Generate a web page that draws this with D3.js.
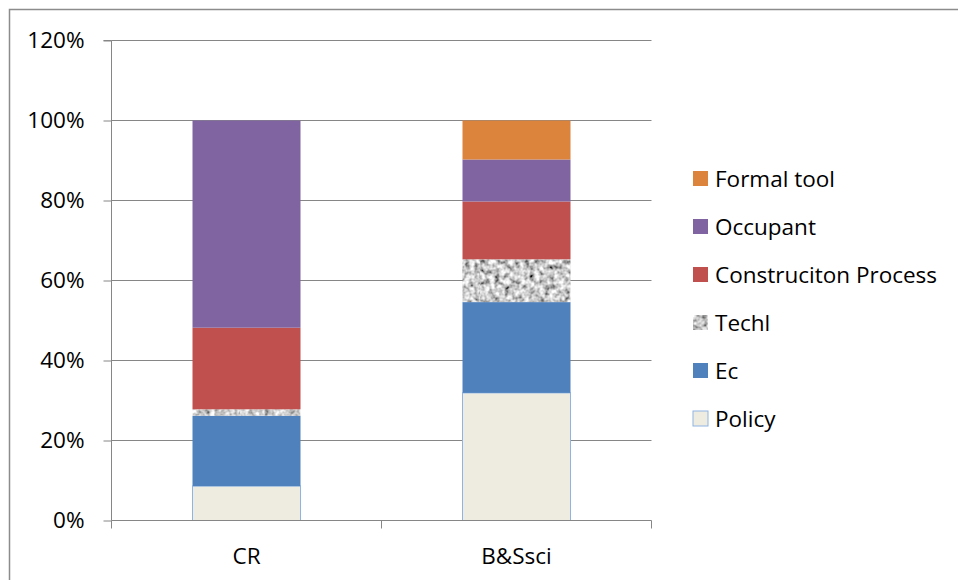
<!DOCTYPE html>
<html><head><meta charset="utf-8">
<script src="https://cdn.jsdelivr.net/npm/d3@7/dist/d3.min.js"></script>
<style>body{margin:0;background:#fff}svg{display:block}text{font-family:"Open Sans",Lato,sans-serif;fill:#000}</style>
</head><body>
<svg id="c" width="958" height="580"></svg>
<script>
const categories = ["CR", "B&Ssci"];
const seriesNames = ["Policy", "Ec", "Techl", "Construciton Process", "Occupant", "Formal tool"];
const policy   = [8.6, 31.9];
const ec       = [17.6, 22.7];
const techl    = [1.6, 10.7];
const construc = [20.4, 14.45];
const occupant = [51.8, 10.5];
const formal   = [0, 9.75];
const yTicks = [0, 20, 40, 60, 80, 100, 120];

const seriesValues = [policy, ec, techl, construc, occupant, formal];
const colors = ["#eeece1", "#4f81bd", "url(#granite)", "#c0504d", "#8064a2", "#dc843c"];
const FS = 22.5;

const svg = d3.select("#c");
const defs = svg.append("defs");
const f = defs.append("filter").attr("id", "noise").attr("x", 0).attr("y", 0).attr("width", "100%").attr("height", "100%");
f.append("feTurbulence").attr("type", "fractalNoise").attr("baseFrequency", 0.2).attr("numOctaves", 2).attr("seed", 4).attr("result", "t");
f.append("feColorMatrix").attr("in", "t").attr("type", "matrix")
  .attr("values", "1.7 0 0 0 -0.25  1.7 0 0 0 -0.25  1.7 0 0 0 -0.25  0 0 0 0 1").attr("result", "g");
f.append("feGaussianBlur").attr("in", "g").attr("stdDeviation", 0.5);
const pat = defs.append("pattern").attr("id", "granite").attr("patternUnits", "userSpaceOnUse")
  .attr("width", 120).attr("height", 120);
pat.append("rect").attr("width", 120).attr("height", 120).attr("filter", "url(#noise)");

// outer border
svg.append("path").attr("d", "M9.5,580 V9.5 H958").attr("fill", "none").attr("stroke", "#8c8c8c").attr("stroke-width", 1.5);

const x0 = 111.5, x1 = 651.5, yTop = 40.5, yBot = 520.5;
const x = d3.scaleBand().domain(categories).range([x0, x1]).paddingInner(0.6).paddingOuter(0.3);
const y = d3.scaleLinear().domain([0, 120]).range([yBot, yTop]);

// gridlines
svg.append("g").selectAll("line").data(yTicks.slice(1)).join("line")
  .attr("x1", x0).attr("x2", x1).attr("y1", d => y(d)).attr("y2", d => y(d))
  .attr("stroke", "#868686").attr("stroke-width", 1);

// stacked bars
const table = categories.map((c, i) => {
  const o = {cat: c};
  seriesNames.forEach((s, j) => o[s] = seriesValues[j][i]);
  return o;
});
const stacked = d3.stack().keys(seriesNames)(table);
const gBars = svg.append("g");
stacked.forEach((layer, j) => {
  gBars.append("g").selectAll("rect").data(layer).join("rect")
    .attr("x", d => x(d.data.cat)).attr("width", x.bandwidth())
    .attr("y", d => y(d[1])).attr("height", d => y(d[0]) - y(d[1]))
    .attr("fill", colors[j])
    .attr("stroke", j === 0 ? "#8eb4e3" : "none").attr("stroke-width", 1);
});

// y axis
const yAxis = d3.axisLeft(y).tickValues(yTicks).tickFormat(d => d + "%").tickSize(8).tickPadding(12);
const gy = svg.append("g").attr("transform", `translate(${x0},0)`).call(yAxis);
gy.select(".domain").attr("stroke", "#868686").attr("d", `M-8,${yTop}H0V${yBot}`);
gy.selectAll(".tick line").attr("stroke", "#868686");
gy.selectAll(".tick text").attr("font-size", FS).attr("font-family", "Open Sans").attr("fill", "#000").attr("dx", -7);

// x axis
const gx = svg.append("g").attr("transform", `translate(0,${yBot})`);
gx.append("line").attr("x1", x0).attr("x2", x1).attr("stroke", "#868686");
const bounds = [x0, (x0 + x1) / 2, x1];
gx.selectAll(".tk").data(bounds).join("line").attr("class", "tk")
  .attr("x1", d => d).attr("x2", d => d).attr("y1", 0).attr("y2", 8).attr("stroke", "#868686");
gx.selectAll("text").data(categories).join("text")
  .attr("x", d => x(d) + x.bandwidth() / 2).attr("y", 43)
  .attr("text-anchor", "middle").attr("font-size", FS).text(d => d);

// legend
const legendOrder = seriesNames.slice().reverse();
const lg = svg.append("g").attr("transform", "translate(693,171)");
const li = lg.selectAll("g").data(legendOrder).join("g").attr("transform", (d, i) => `translate(0,${i * 48})`);
li.append("rect").attr("width", 15).attr("height", 15)
  .attr("fill", d => colors[seriesNames.indexOf(d)])
  .attr("stroke", d => d === "Policy" ? "#8eb4e3" : "none");
li.append("text").attr("x", 22).attr("y", 15.5).attr("font-size", FS).text(d => d);
</script>
</body></html>
